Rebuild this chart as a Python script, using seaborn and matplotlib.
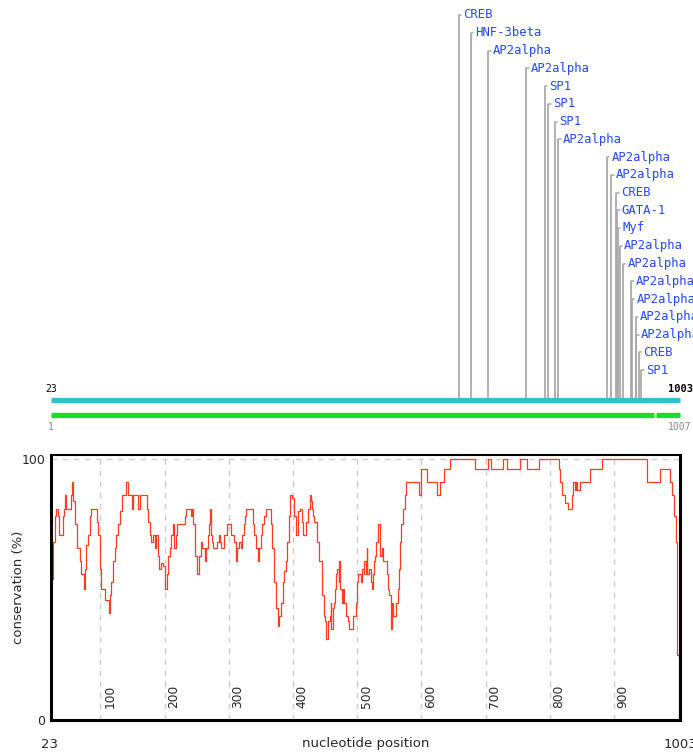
import matplotlib
matplotlib.use("Agg")
import matplotlib.pyplot as plt
import seaborn as sns
import pandas as pd

# Sitios de factores de transcripcion (posicion en la secuencia 23..1003)
tf_names = ["CREB", "HNF-3beta", "AP2alpha", "AP2alpha", "SP1", "SP1", "SP1", "AP2alpha",
            "AP2alpha", "AP2alpha", "CREB", "GATA-1", "Myf", "AP2alpha", "AP2alpha",
            "AP2alpha", "AP2alpha", "AP2alpha", "AP2alpha", "CREB", "SP1"]
tf_pos = [658, 677, 704, 763, 792, 798, 808, 813, 889, 896, 904, 905, 906, 909, 914,
          927, 928, 934, 935, 939, 943]

# Rango de las secuencias
seq_start, seq_end = 23, 1003
ref_start, ref_end = 1, 1007
ref_gap = 967

# Conservacion (%) por posicion de nucleotido (inicio de cada escalon)
cons_pos = [23, 26, 29, 31, 34, 36, 42, 44, 45, 47, 54, 56, 57, 60, 64, 68, 70, 74, 76, 78,
            81, 83, 86, 95, 97, 99, 100, 101, 107, 113, 115, 117, 120, 122, 125, 127, 130, 133,
            140, 143, 149, 151, 159, 161, 172, 174, 177, 179, 182, 185, 187, 190, 192, 195, 198,
            200, 203, 205, 208, 210, 213,
            215, 217, 220, 232, 233, 241, 243, 245, 247, 248, 250, 251, 253, 257, 259, 263, 265,
            267, 269, 271, 273, 274, 276, 281, 284, 286, 288, 292, 297, 303, 308, 311, 313, 316,
            319, 321, 324, 325, 327, 337, 339, 342, 345, 347, 350, 352, 355, 358, 365, 368, 371,
            373, 376, 378, 381, 384, 386, 389, 391, 394, 396, 399, 401, 404, 408,
            411, 414, 415, 420, 424, 426, 428, 429, 431, 432, 437, 440, 445, 446, 448, 450, 452,
            455, 457, 459, 460, 462, 464, 466, 467, 469, 471, 472, 473, 476, 478, 480, 483, 486,
            488, 494, 498, 499, 502, 506, 507, 510, 511, 513, 515, 516, 519, 521, 523, 524, 526,
            528, 530, 532, 535, 536, 538, 540, 546, 548, 550, 552, 554, 556, 561, 563, 565, 567,
            569, 572, 575, 576, 597, 599,
            600, 609, 624, 629, 636, 644, 683, 704, 708, 728, 733, 754, 764, 783, 814, 816, 819,
            824, 828, 834, 837, 839, 841, 843, 847, 863, 881, 952, 972, 988, 990, 993, 996, 998,
            999, 1001, 1003]
cons_val = [54, 68, 78, 81, 78, 71, 78, 81, 86, 81, 86, 91, 84, 75, 66, 61, 56, 50, 58, 67,
            71, 78, 81, 76, 71, 63, 58, 50, 46, 41, 48, 53, 61, 66, 71, 75, 80, 86,
            91, 86, 81, 86, 81, 86, 81, 76, 71, 68, 71, 66, 71, 63, 58, 60, 59,
            50, 56, 63, 66, 71, 75,
            66, 71, 75, 78, 81, 78, 81, 75, 68, 63, 58, 56, 63, 68, 66, 61, 66,
            71, 75, 81, 71, 68, 66, 68, 71, 68, 66, 71, 75, 71, 68, 61, 66, 68,
            66, 71, 75, 78, 81, 75, 71, 66, 61, 66, 71, 75, 78, 81, 75, 66, 53,
            43, 36, 40, 45, 53, 57, 61, 68, 78, 86, 85, 78, 71, 80,
            81, 76, 71, 76, 81, 86, 84, 81, 78, 76, 68, 61, 58, 48, 40, 38, 31,
            38, 40, 45, 35, 43, 45, 50, 56, 58, 53, 61, 50, 45, 50, 45, 40, 38,
            35, 40, 45, 53, 56, 53, 58, 56, 61, 56, 66, 56, 58, 53, 50, 56, 61,
            63, 68, 75, 68, 63, 66, 61, 56, 50, 48, 35, 45, 40, 45, 50, 58, 68,
            75, 81, 86, 91, 86, 91,
            96, 91, 86, 91, 96, 100, 96, 100, 96, 100, 96, 100, 96, 100, 96, 91, 86,
            83, 81, 86, 91, 88, 91, 88, 91, 96, 100, 91, 96, 91, 86, 78, 68, 58,
            25, 0, 0]

grid_ticks = [100, 200, 300, 400, 500, 600, 700, 800, 900]

sns.set_style("white")
plt.rcParams['font.family'] = ['DejaVu Sans']

W, H = 693, 754
fig = plt.figure(figsize=(W / 100, H / 100), dpi=100)

# ---- Panel superior: sitios de union ----
ax_tf = fig.add_axes([51 / W, 324 / H, 629 / W, 430 / H])
ax_tf.set_xlim(seq_start, seq_end)
ax_tf.set_ylim(430, 0)
ax_tf.axis("off")

base_y = 399.5
for i, (name, pos) in enumerate(zip(tf_names, tf_pos)):
    row_y = 15 + 17.75 * i
    ax_tf.plot([pos, pos], [base_y, row_y], color="#aaaaaa", lw=1.3, clip_on=False,
               solid_capstyle="butt")
    ax_tf.plot([pos, pos + 4], [row_y, row_y], color="#aaaaaa", lw=1.1, clip_on=False)
    ax_tf.text(pos + 7, row_y, name, color="#2448ff", fontsize=8.8,
               family="DejaVu Sans Mono", va="center", ha="left", clip_on=False)

ax_tf.plot([seq_start, seq_end], [base_y, base_y], color="#33bfd0", lw=3.8,
           solid_capstyle="butt", clip_on=False)

# linea de referencia 1..1007 llevada a la misma escala
def ref_x(s):
    return seq_start + (s - ref_start) * (seq_end - seq_start) / (ref_end - ref_start)

green_y = 414.5
ax_tf.plot([ref_x(ref_start), ref_x(ref_gap - 1)], [green_y, green_y], color="#12e02a",
           lw=3.8, solid_capstyle="butt", clip_on=False)
ax_tf.plot([ref_x(ref_gap + 1), ref_x(ref_end)], [green_y, green_y], color="#12e02a",
           lw=3.8, solid_capstyle="butt", clip_on=False)

ax_tf.text(seq_start, 388.5, str(seq_start), fontsize=7, family="DejaVu Sans Mono",
           ha="center", va="center", color="black")
ax_tf.text(seq_end, 389, str(seq_end), fontsize=7.5, family="DejaVu Sans Mono",
           fontweight="bold", ha="center", va="center", color="black", clip_on=False)
ax_tf.text(ref_x(ref_start), 427, str(ref_start), fontsize=7, family="DejaVu Sans Mono",
           ha="center", va="center", color="#888888")
ax_tf.text(ref_x(ref_end), 427, str(ref_end), fontsize=7, family="DejaVu Sans Mono",
           ha="center", va="center", color="#888888", clip_on=False)

# ---- Panel inferior: conservacion ----
ax = fig.add_axes([51 / W, 34 / H, 629 / W, 265 / H])
df = pd.DataFrame({"pos": cons_pos, "cons": cons_val})
sns.lineplot(data=df, x="pos", y="cons", ax=ax, color="#ff3c1e", lw=0.9,
             drawstyle="steps-post", estimator=None)
ax.set_xlim(seq_start, seq_end)
ax.set_ylim(0, 101.5)

ax.set_xticks(grid_ticks)
ax.set_yticks([0, 100])
ax.set_yticklabels(["0", "100"], fontsize=9)
ax.tick_params(axis="x", length=0, labelbottom=False)
ax.tick_params(axis="y", length=2, width=1.5, pad=2)
ax.grid(True, ls=(0, (4, 4)), color="#cccccc", lw=1.0)
ax.set_xlabel("")
ax.set_ylabel("")

for t in grid_ticks:
    ax.text(t + 14.5, 4.5, str(t), rotation=90, ha="center", va="bottom", fontsize=8.8)

for side in ["left", "bottom", "right"]:
    ax.spines[side].set_linewidth(2.2)
    ax.spines[side].set_color("black")
ax.spines["top"].set_linewidth(1.5)
ax.spines["top"].set_color("black")

ax.annotate(str(seq_start), xy=(seq_start, 0), xytext=(-2, -24), textcoords="offset pixels",
            ha="center", va="center", fontsize=9.5)
ax.annotate(str(seq_end), xy=(seq_end, 0), xytext=(0, -24), textcoords="offset pixels",
            ha="center", va="center", fontsize=9.5, annotation_clip=False)
ax.annotate("nucleotide position", xy=((seq_start + seq_end) / 2, 0), xytext=(0, -24),
            textcoords="offset pixels", ha="center", va="center", fontsize=9.5)
ax.text(-33 / 629, 0.5, "conservation (%)", rotation=90, transform=ax.transAxes,
        ha="center", va="center", fontsize=9.5)

fig.savefig("out.png", dpi=100)
